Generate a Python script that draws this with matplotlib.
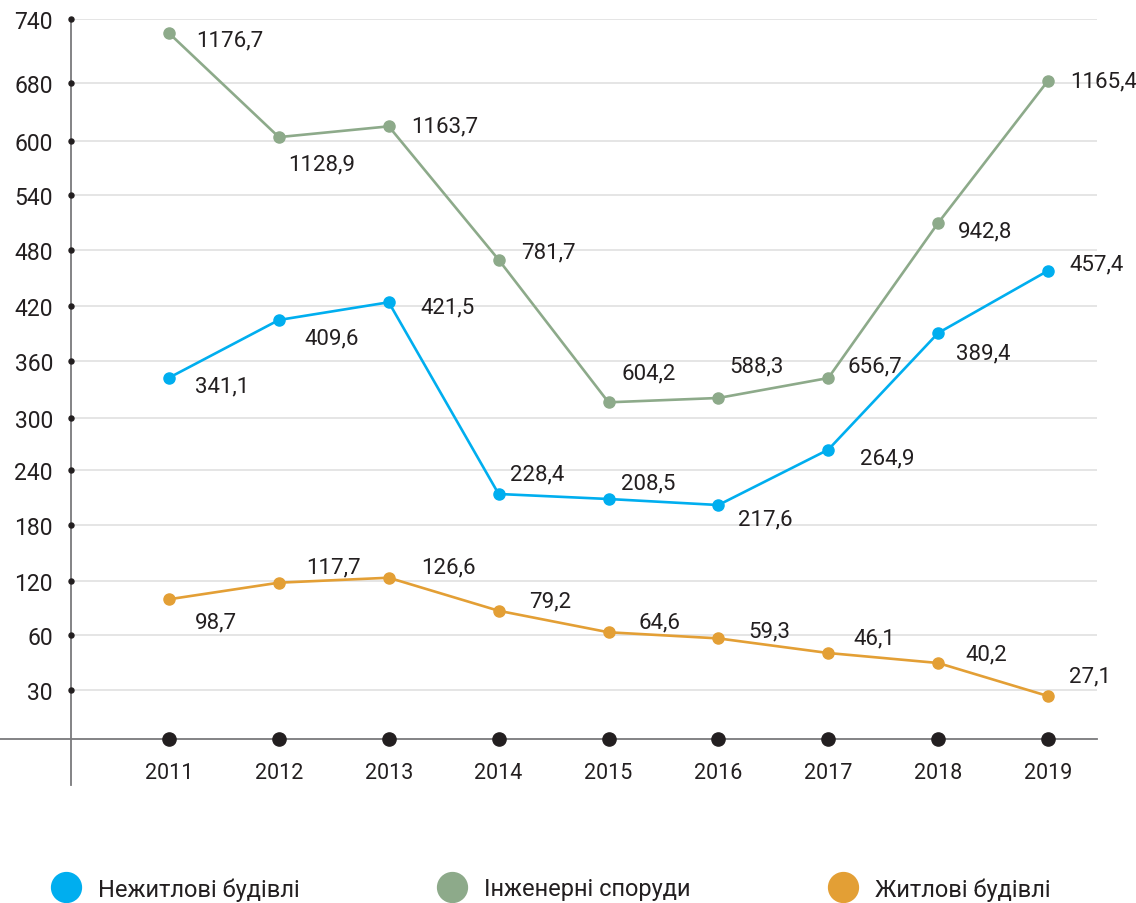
import numpy as np
import matplotlib
matplotlib.use("Agg")
import matplotlib.pyplot as plt
from matplotlib.scale import FuncScale
from matplotlib.lines import Line2D

plt.rcParams['font.family'] = ['Roboto', 'DejaVu Sans']

# ---------------- data ----------------
years = ["2011", "2012", "2013", "2014", "2015", "2016", "2017", "2018", "2019"]

# y-axis tick values (non-uniform, as labelled on the chart)
y_ticks = [30, 60, 120, 180, 240, 300, 360, 420, 480, 540, 600, 680, 740]

# plotted positions read on the chart's own y-axis
eng_vals = [727, 605, 620, 469.5, 316.6, 321.1, 341.8, 509.5, 682.4]
nonres_vals = [342.1, 404.2, 423.5, 213.7, 208.2, 201.6, 263.6, 390, 457.6]
res_vals = [99.3, 117.8, 123.2, 86.5, 62.5, 57.9, 50, 44.6, 26.3]

# value labels printed next to the points
eng_labels = ["1176,7", "1128,9", "1163,7", "781,7", "604,2", "588,3", "656,7", "942,8", "1165,4"]
nonres_labels = ["341,1", "409,6", "421,5", "228,4", "208,5", "217,6", "264,9", "389,4", "457,4"]
res_labels = ["98,7", "117,7", "126,6", "79,2", "64,6", "59,3", "46,1", "40,2", "27,1"]

series_names = ["Нежитлові будівлі", "Інженерні споруди", "Житлові будівлі"]

# ---------------- style ----------------
C_BLUE = "#00AEEF"
C_GREEN = "#8DAA8A"
C_ORANGE = "#E39F35"
C_TEXT = "#231F20"
C_AXIS = "#7A7A7C"
C_GRID = "#DEDEDE"
FS_TICK = 16.5
FS_LAB = 16
FS_YEAR = 15.5
FS_LEG = 17

# label offsets (pixels: left edge dx, visual-centre dy)
eng_off = [(27, -4), (9, -24), (22, 3), (22, 10), (13, 32), (11, 34), (19, 15), (20, -6), (22, 2)]
nonres_off = [(26, -6), (26, -16), (32, -2), (11, 22), (12, 18), (20, -12), (32, -6), (18, -18), (21, 9)]
res_off = [(26, -20), (27, 18), (32, 13), (30, 12), (30, 13), (30, 10), (25, 17), (27, 11), (21, 23)]

# piecewise scale: tick value -> pixel height above baseline
scale_vals = [-100, 0, 30, 60, 120, 180, 240, 300, 360, 420, 480, 540, 600, 680, 740, 1000]
scale_pix = [740 + 163.3, 740, 691, 635.5, 581.7, 525.7, 471, 419.3, 361.5, 306.5,
             251, 196, 141.7, 84.3, 20.3, 20.3 - 277.3]
scale_h = [740 - p for p in scale_pix]


def fwd(v):
    return np.interp(v, scale_vals, scale_h)


def inv(h):
    return np.interp(h, scale_h, scale_vals)


W, H = 1136, 904
fig = plt.figure(figsize=(W / 100, H / 100), dpi=100)
ax_left, ax_right, ax_top, ax_bottom = 71, 1097, 20.3, 786
ax = fig.add_axes([ax_left / W, 1 - ax_bottom / H, (ax_right - ax_left) / W, (ax_bottom - ax_top) / H])
ax.set_yscale(FuncScale(ax, (fwd, inv)))

x = np.arange(len(years))
xlim = (-(169 - 71) / 109.875, 8 + (1097 - 1048) / 109.875)
ylim = (-28.16, 740)
ax.set_xlim(*xlim)
ax.set_ylim(*ylim)

for s in ["top", "right", "bottom"]:
    ax.spines[s].set_visible(False)
ax.spines["left"].set_color(C_AXIS)
ax.spines["left"].set_linewidth(1.3)

ax.set_yticks(y_ticks)
ax.set_yticklabels([str(t) for t in y_ticks])
ax.tick_params(axis="y", length=0, pad=13, labelsize=FS_TICK, labelcolor=C_TEXT)
ax.set_xticks([])
ax.yaxis.grid(True, color=C_GRID, linewidth=1.1)
ax.set_axisbelow(True)

# tick dots on the spine
ax.plot([xlim[0]] * len(y_ticks), y_ticks, ls="", marker="o", ms=3.6, color=C_TEXT,
        clip_on=False, zorder=5)

# baseline
ax.axhline(0, xmin=-ax_left / (ax_right - ax_left), xmax=1, color=C_AXIS, lw=1.3,
           clip_on=False, zorder=2)
ax.plot(x, [0] * len(x), ls="", marker="o", ms=9.5, color=C_TEXT, zorder=6, clip_on=False)
for i, yr in enumerate(years):
    ax.annotate(yr, (i, 0), xytext=(0, -39), textcoords="offset pixels",
                ha="center", va="baseline", fontsize=FS_YEAR, color=C_TEXT)

half_cap = 7.9
for vals, labels, offs, col in [(eng_vals, eng_labels, eng_off, C_GREEN),
                                (nonres_vals, nonres_labels, nonres_off, C_BLUE),
                                (res_vals, res_labels, res_off, C_ORANGE)]:
    ax.plot(x, vals, color=col, lw=1.9, marker="o", ms=8, zorder=4)
    for i, (v, lab, (dx, dy)) in enumerate(zip(vals, labels, offs)):
        ax.annotate(lab, (i, v), xytext=(dx, dy - half_cap), textcoords="offset pixels",
                    ha="left", va="baseline", fontsize=FS_LAB, color=C_TEXT, zorder=7)

# legend (three entries placed along the bottom)
leg_x = [51, 437, 828]
for name, col, lx in zip(series_names, [C_BLUE, C_GREEN, C_ORANGE], leg_x):
    h = Line2D([], [], ls="", marker="o", ms=21.5, color=col)
    fig.legend(handles=[h], labels=[name], loc="center left",
               bbox_to_anchor=(lx / W, 1 - 890 / H), frameon=False,
               handlelength=1.3, handletextpad=0.68, borderpad=0, borderaxespad=0,
               prop={"size": FS_LEG}, labelcolor=C_TEXT)

fig.savefig("out.png", dpi=100)
